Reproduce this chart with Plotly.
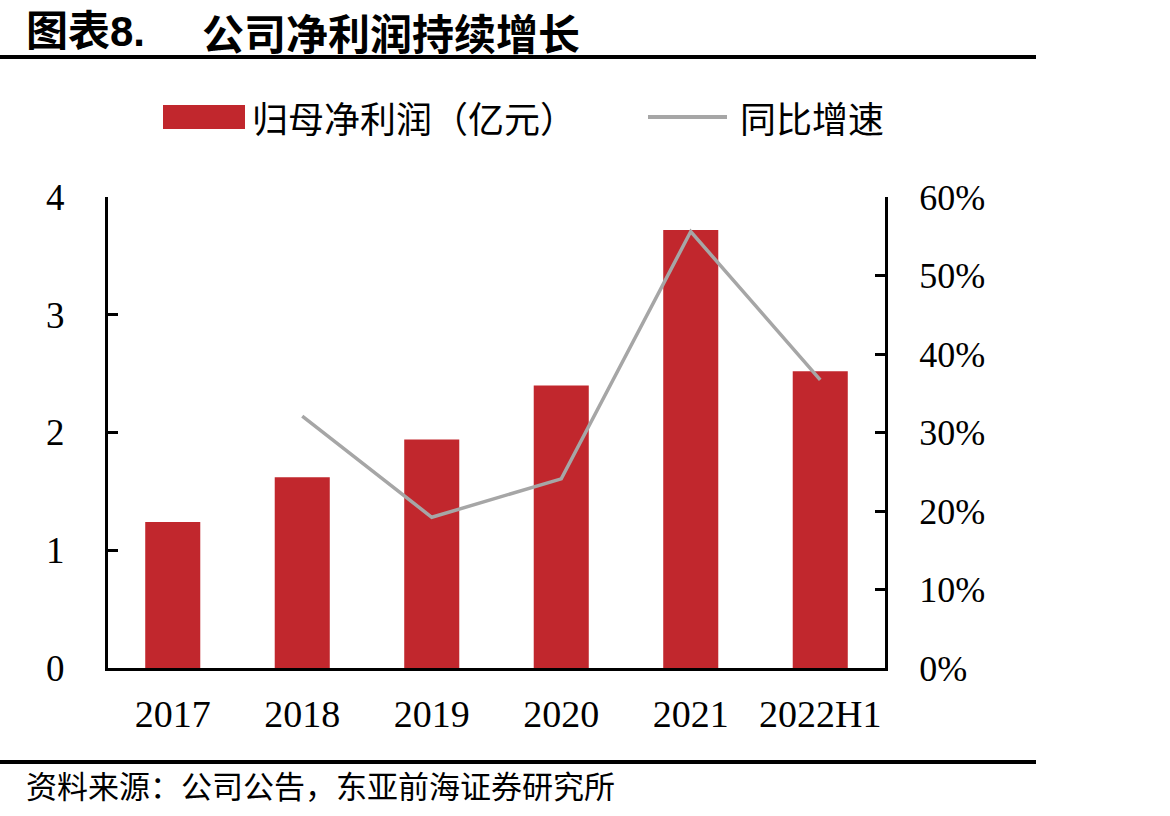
import plotly.graph_objects as go

categories = ["2017", "2018", "2019", "2020", "2021", "2022H1"]
net_profit = [1.24, 1.62, 1.94, 2.40, 3.72, 2.52]
growth = [None, 0.321, 0.192, 0.241, 0.556, 0.367]

W, H = 1170, 816
L, R, T, B = 108, 885, 197, 668

def px(x):
    return (x - L) / (R - L)

def py(y):
    return (B - y) / (B - T)

RED = "#C1272D"
GRAY = "#A6A6A6"
CJK = "Noto Sans CJK SC"
SERIF = "Liberation Serif"

fig = go.Figure()
fig.add_trace(go.Bar(x=categories, y=net_profit, name="归母净利润（亿元）",
                     marker=dict(color=RED, line=dict(width=0)), width=0.425,
                     showlegend=False))
fig.add_trace(go.Scatter(x=categories, y=growth, name="同比增速", yaxis="y2",
                         mode="lines", line=dict(color=GRAY, width=3.5),
                         showlegend=False))

fig.update_layout(
    width=W, height=H,
    margin=dict(l=L, r=W - R, t=T, b=H - B),
    paper_bgcolor="white", plot_bgcolor="white",
    xaxis=dict(showline=True, linecolor="black", linewidth=3, ticks="",
               tickfont=dict(family=SERIF, size=38, color="black"),
               ticklabelstandoff=10, mirror=False, showgrid=False),
    yaxis=dict(range=[0, 4], dtick=1, showline=True, linecolor="black", linewidth=3,
               ticks="inside", ticklen=10, tickwidth=3, tickcolor="black",
               showgrid=False, zeroline=False,
               tickfont=dict(family=SERIF, size=37, color="black"),
               ticklabelstandoff=33),
    yaxis2=dict(range=[0, 0.6], dtick=0.1, tickformat=".0%", overlaying="y", side="right",
                showline=True, linecolor="black", linewidth=3,
                ticks="inside", ticklen=10, tickwidth=3, tickcolor="black",
                showgrid=False, zeroline=False,
                tickfont=dict(family=SERIF, size=36, color="black"),
                ticklabelstandoff=24),
    bargap=0.5,
)

shapes = [
    # title underline
    dict(type="line", xref="paper", yref="paper", x0=px(0), x1=px(1036), y0=py(57), y1=py(57),
         line=dict(color="black", width=4)),
    # footer line
    dict(type="line", xref="paper", yref="paper", x0=px(0), x1=px(1036), y0=py(762), y1=py(762),
         line=dict(color="black", width=4)),
    # legend swatches
    dict(type="rect", xref="paper", yref="paper", x0=px(163), x1=px(245), y0=py(129), y1=py(105),
         fillcolor=RED, line=dict(width=0)),
    dict(type="line", xref="paper", yref="paper", x0=px(648), x1=px(727), y0=py(117), y1=py(117),
         line=dict(color=GRAY, width=4)),
]

annotations = [
    dict(text="<b>图表8.</b>", xref="paper", yref="paper", x=px(24), y=py(31),
         xanchor="left", yanchor="middle", showarrow=False,
         font=dict(family="Liberation Sans, " + CJK, size=42, color="black")),
    dict(text="<b>公司净利润持续增长</b>", xref="paper", yref="paper", x=px(200), y=py(31),
         xanchor="left", yanchor="middle", showarrow=False,
         font=dict(family=CJK, size=42, color="black")),
    dict(text="归母净利润（亿元）", xref="paper", yref="paper", x=px(250), y=py(117),
         xanchor="left", yanchor="middle", showarrow=False,
         font=dict(family=CJK, size=36, color="black")),
    dict(text="同比增速", xref="paper", yref="paper", x=px(738), y=py(117),
         xanchor="left", yanchor="middle", showarrow=False,
         font=dict(family=CJK, size=36, color="black")),
    dict(text="资料来源：公司公告，东亚前海证券研究所", xref="paper", yref="paper", x=px(24), y=py(784),
         xanchor="left", yanchor="middle", showarrow=False,
         font=dict(family=CJK, size=31, color="black")),
]

fig.update_layout(shapes=shapes, annotations=annotations)
fig.write_html("out.html")
